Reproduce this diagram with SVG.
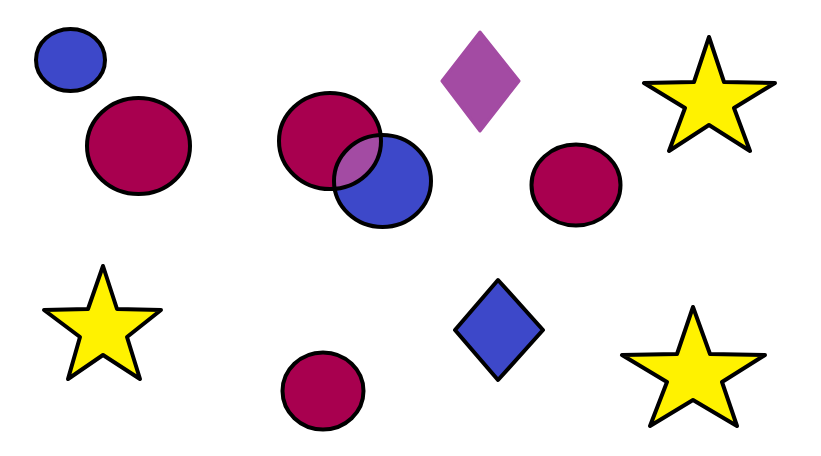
<svg xmlns="http://www.w3.org/2000/svg" width="821" height="456" viewBox="0 0 821 456">
<style>
.s{stroke:#000;stroke-width:4;stroke-linejoin:round}
.blue{fill:#3d48c9}
.red{fill:#a8004f}
.yel{fill:#fff200}
.pur{fill:#a34ba3}
</style>
<defs>
<clipPath id="cr"><ellipse cx="330" cy="141" rx="51" ry="48"/></clipPath>
</defs>
<rect width="821" height="456" fill="#fff"/>
<g id="blue-ellipse-tl"><ellipse class="s blue" cx="70.5" cy="60" rx="34.5" ry="31"/></g>
<g id="red-circle-l"><ellipse class="s red" cx="138.5" cy="146" rx="51.5" ry="48"/></g>
<g id="overlap-pair">
<ellipse class="red" cx="330" cy="141" rx="51" ry="48"/>
<ellipse class="blue" cx="382.5" cy="181" rx="48.5" ry="46"/>
<ellipse class="pur" cx="382.5" cy="181" rx="48.5" ry="46" clip-path="url(#cr)"/>
<ellipse class="s" fill="none" cx="330" cy="141" rx="51" ry="48"/>
<ellipse class="s" fill="none" cx="382.5" cy="181" rx="48.5" ry="46"/>
</g>
<g id="purple-diamond"><polygon class="pur" points="480,32 519,81 480,131 442,81" stroke="#a34ba3" stroke-width="3" stroke-linejoin="round"/></g>
<g id="red-ellipse-r"><ellipse class="s red" cx="576" cy="185" rx="44.5" ry="40.5"/></g>
<g id="red-circle-b"><ellipse class="s red" cx="323" cy="391" rx="40.5" ry="38.5"/></g>
<g id="blue-diamond"><polygon class="s blue" points="498,280 543,330 498,380 455,330"/></g>
<g id="star-tr"><polygon class="s yel" points="709,37 724,82 775,83 734,108 750,151 709,125 669,151 685,108 644,83 694,82"/></g>
<g id="star-bl"><polygon class="s yel" points="103,266 117,309 161,310 127,337 140,379 103,355 68,379 80,337 44,310 88,309"/></g>
<g id="star-br"><polygon class="s yel" points="693,307 710,354 765,355 722,382 737,426 693,400 650,426 667,382 622,355 677,354"/></g>
</svg>
